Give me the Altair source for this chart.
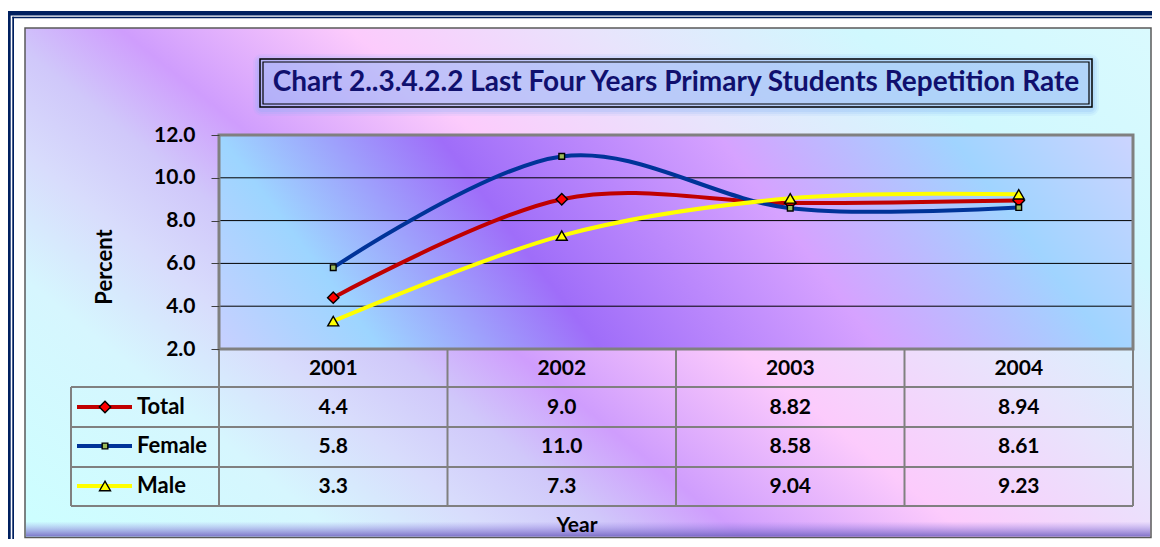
import altair as alt
import pandas as pd

# ---------------- data ----------------
years = ["2001", "2002", "2003", "2004"]
series = ["Total", "Female", "Male"]
total_vals = [4.4, 9.0, 8.82, 8.94]
female_vals = [5.8, 11.0, 8.58, 8.61]
male_vals = [3.3, 7.3, 9.04, 9.23]
table_decimals = [1, 1, 2, 2]
y_ticks = [2, 4, 6, 8, 10, 12]

title_text = "Chart 2..3.4.2.2 Last Four Years Primary Students Repetition Rate"
y_title = "Percent"
x_title = "Year"

# ---------------- styles ----------------
line_colors = {"Total": "#C00000", "Female": "#003399", "Male": "#FFFF00"}
marker_shapes = {"Total": "diamond", "Female": "square", "Male": "triangle-up"}
marker_fills = {"Total": "#FF0000", "Female": "#9BBB59", "Male": "#FFFF00"}
marker_sizes = {"Total": 130, "Female": 32, "Male": 120}
FONT = "Lato"
NAVY = "#002060"
GRID_GRAY = "#808080"

# layout: plot area W x H, everything else placed relative to it
W, H = 914, 214
PAD = {"left": 211, "top": 127, "right": 19, "bottom": 190}
COL = W / 4
HEADER_Y = 234
ROW_Y = {"Total": 273, "Female": 312, "Male": 352}
ROW_EDGES = [252, 292, 332, 371]
LEG_LEFT = -148
BOX_R, BOX_B = 932, 402.5

vals = {"Total": total_vals, "Female": female_vals, "Male": male_vals}
rows = []
for s in series:
    for i, yr in enumerate(years):
        v = vals[s][i]
        rows.append({"series": s, "year": yr, "value": v,
                     "label": f"{v:.{table_decimals[i]}f}"})
df = pd.DataFrame(rows)

xs = alt.Scale(type="point", domain=years, padding=0.5)
ys = alt.Scale(domain=[2, 12], nice=False, zero=False)
X = alt.X("year:O", scale=xs, axis=None)
y_axis = alt.Axis(values=y_ticks, format=".1f", labelFont=FONT,
                  labelFontSize=21, labelFontWeight="bold",
                  labelColor="black", tickSize=8, tickColor="#404040",
                  tickWidth=1, labelPadding=16, domain=False,
                  grid=False, title=None, zindex=1)

one = pd.DataFrame({"k": [0]})


def box(x, x2, y, y2, **kw):
    return alt.Chart(one).mark_rect(**kw).encode(
        x=alt.value(x), x2=alt.value(x2), y=alt.value(y), y2=alt.value(y2))


def rule(x, x2, y, y2, **kw):
    return alt.Chart(one).mark_rule(**kw).encode(
        x=alt.value(x), x2=alt.value(x2), y=alt.value(y), y2=alt.value(y2))


def label(text, x, y, **kw):
    opts = dict(font=FONT, fontWeight="bold", color="black", fontSize=21,
                align="center", baseline="middle")
    opts.update(kw)
    return alt.Chart(one).mark_text(text=text, **opts).encode(
        x=alt.value(x), y=alt.value(y))


outer_grad = {"gradient": "linear", "x1": 0, "y1": 1, "x2": 1.19, "y2": 0.34,
              "stops": [
                  {"offset": 0, "color": "#CCFFFF"},
                  {"offset": 0.18, "color": "#D6F6FE"},
                  {"offset": 0.27, "color": "#D8DCFC"},
                  {"offset": 0.34, "color": "#D0C8FA"},
                  {"offset": 0.41, "color": "#CF9DFD"},
                  {"offset": 0.54, "color": "#FCCBFC"},
                  {"offset": 0.68, "color": "#E8E4FC"},
                  {"offset": 0.83, "color": "#D0F8FE"},
                  {"offset": 1, "color": "#DAFAFE"}]}

plot_grad = {"gradient": "linear", "x1": 0, "y1": 1, "x2": 1.141, "y2": 0.798,
             "stops": [
                 {"offset": 0, "color": "#C8D0FF"},
                 {"offset": 0.15, "color": "#9DD5FF"},
                 {"offset": 0.354, "color": "#9F6DF9"},
                 {"offset": 0.615, "color": "#D6A2FF"},
                 {"offset": 0.83, "color": "#A0D4FF"},
                 {"offset": 1, "color": "#CCD4FF"}]}

shade_grad = {"gradient": "linear", "x1": 0, "y1": 0, "x2": 0, "y2": 1,
              "stops": [
                  {"offset": 0, "color": "rgba(150,130,230,0)"},
                  {"offset": 1, "color": "rgba(110,95,190,0.85)"}]}

layers = []
# chart background + frame
layers.append(box(-194, BOX_R, -107, BOX_B, fill=outer_grad, stroke="#595959", strokeWidth=1.5))
layers.append(box(-193, BOX_R - 1, BOX_B - 16, BOX_B - 1, fill=shade_grad))
layers.append(box(-212, 945, -124, -119.5, fill=NAVY))
layers.append(box(-212, -208.3, -124, 420, fill=NAVY))
layers.append(box(-206.7, 945, -118.3, -116.7, fill=NAVY))
layers.append(box(-206.7, -205, -118.3, 420, fill=NAVY))

# title box with glow
for g, op in [(7, 0.10), (5, 0.14), (3, 0.18)]:
    layers.append(box(41 - g, 873 + g, -76 - g + 2, -28 + g + 2, fill="#7FAEF5",
                      opacity=op, cornerRadius=g + 2))
layers.append(box(41, 873, -76, -28, fill="#A8C0F8", fillOpacity=0.3,
                  stroke="black", strokeWidth=1.5))
layers.append(box(44, 870, -73, -31, fill="white", fillOpacity=0,
                  stroke="black", strokeWidth=1.2))
layers.append(label(title_text, 457, -52, fontSize=28, color="#10106E"))

# plot area
layers.append(box(0, W, 0, H, fill=plot_grad))
grid = alt.Chart(pd.DataFrame({"tick": y_ticks})).mark_rule(
    color="black", strokeWidth=1).encode(
    y=alt.Y("tick:Q", scale=ys, axis=y_axis),
    x=alt.value(0), x2=alt.value(W))
layers.append(grid)
layers.append(box(0, W, 0, H, fill="white", fillOpacity=0,
                  stroke=GRID_GRAY, strokeWidth=3))

# data table grid
for ye in ROW_EDGES:
    layers.append(rule(LEG_LEFT, W, ye, ye, color=GRID_GRAY, strokeWidth=2))
layers.append(rule(LEG_LEFT, LEG_LEFT, ROW_EDGES[0], ROW_EDGES[-1], color=GRID_GRAY, strokeWidth=2))
for k in range(5):
    layers.append(rule(k * COL, k * COL, H, ROW_EDGES[-1], color=GRID_GRAY, strokeWidth=2))

# table header and values
layers.append(alt.Chart(pd.DataFrame({"year": years})).mark_text(
    font=FONT, fontWeight="bold", fontSize=21, color="black", baseline="middle").encode(
    x=X, y=alt.value(HEADER_Y), text="year:N"))
for s in series:
    layers.append(alt.Chart(df[df.series == s]).mark_text(
        font=FONT, fontWeight="bold", fontSize=21, color="black", baseline="middle").encode(
        x=X, y=alt.value(ROW_Y[s]), text="label:N"))

# lines and markers
for s in series:
    layers.append(alt.Chart(df[df.series == s]).mark_line(
        interpolate="cardinal", color=line_colors[s], strokeWidth=4).encode(
        x=X, y=alt.Y("value:Q", scale=ys, axis=y_axis)))
for s in series:
    layers.append(alt.Chart(df[df.series == s]).mark_point(
        shape=marker_shapes[s], size=marker_sizes[s], filled=True,
        fill=marker_fills[s], stroke="black", strokeWidth=1.4, opacity=1).encode(
        x=X, y=alt.Y("value:Q", scale=ys, axis=y_axis)))

# legend keys inside the table
for s in series:
    layers.append(rule(-142, -87, ROW_Y[s] - 1, ROW_Y[s] - 1, color=line_colors[s], strokeWidth=4))
    layers.append(alt.Chart(one).mark_point(
        shape=marker_shapes[s], size=marker_sizes[s], filled=True,
        fill=marker_fills[s], stroke="black", strokeWidth=1.4, opacity=1).encode(
        x=alt.value(-114), y=alt.value(ROW_Y[s] - 1)))
    layers.append(label(s, -82, ROW_Y[s] - 1, align="left", fontSize=22))

# axis titles
layers.append(label(y_title, -114, 132, angle=270, fontSize=22))
layers.append(label(x_title, 358, 391))

chart = alt.layer(*layers).properties(
    width=W, height=H, padding=PAD,
    autosize=alt.AutoSizeParams(type="none"),
    background="white",
).configure_view(stroke=None)

chart.save("out.html", embed_options={"renderer": "svg", "actions": False})
